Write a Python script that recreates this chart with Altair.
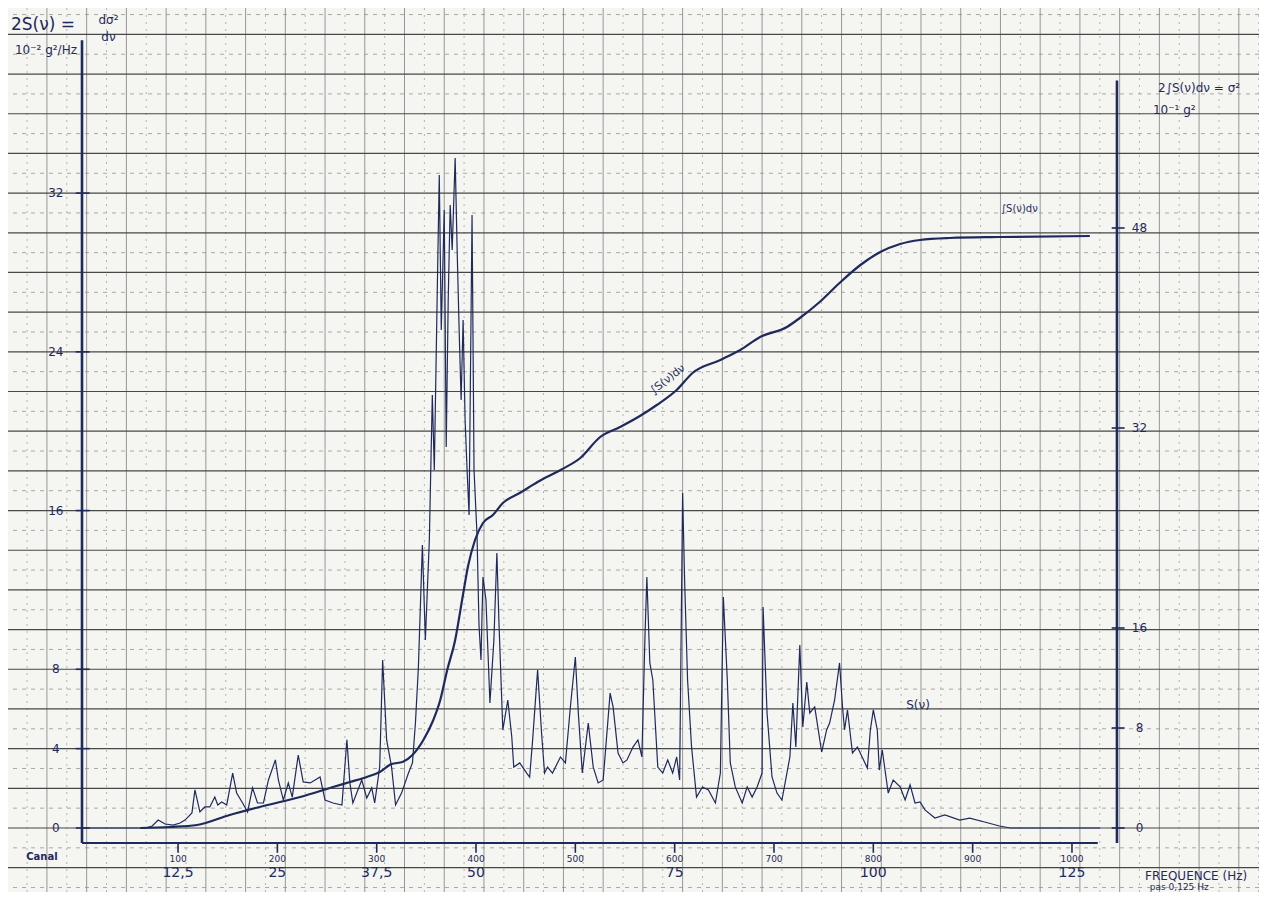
import altair as alt
import pandas as pd

# ---- data ----
# S(nu) trace: channel number (pas 0,125 Hz) and value in 10^-2 g^2/Hz
channel = [3, 67, 74, 80, 87, 95, 102, 107, 114, 117, 122, 127, 132, 137, 140, 144, 149, 155, 159, 165,
           170, 175, 180, 186, 191, 198, 201, 206, 211, 215, 221, 226, 233, 238, 243, 248, 256, 265, 270, 273,
           276, 285, 290, 295, 298, 303, 306, 310, 315, 319, 325, 332, 336, 339, 342, 346, 349, 353, 356, 358,
           361, 363, 365, 368, 370, 372, 374, 376, 379, 381, 383, 385, 387, 389, 391, 393, 396, 398, 401, 403,
           405, 407, 410, 414, 418, 421, 423, 427, 432, 436, 438, 444, 451, 454, 457, 462, 466, 469, 472, 477,
           485, 490, 495, 500, 503, 507, 513, 518, 523, 528, 535, 538, 543, 548, 552, 558, 563, 567, 570, 572,
           575, 578, 583, 588, 593, 598, 602, 605, 608, 610, 613, 617, 622, 628, 634, 641, 646, 649, 653, 656,
           661, 668, 673, 678, 683, 688, 689, 693, 698, 703, 708, 713, 716, 719, 722, 726, 729, 733, 736, 741,
           748, 753, 756, 761, 766, 769, 771, 774, 779, 784, 794, 797, 800, 804, 806, 809, 815, 820, 827, 832,
           837, 842, 847, 852, 862, 872, 887, 897, 912, 927, 938, 1028]
s_nu = [0, 0, 0.10, 0.40, 0.20, 0.15, 0.25, 0.40, 0.76, 1.92, 0.81, 1.06, 1.06, 1.56, 1.16, 1.31, 1.16, 2.77, 1.76, 1.26,
        0.81, 2.02, 1.26, 1.26, 2.42, 3.43, 2.42, 1.41, 2.27, 1.56, 3.68, 2.32, 2.27, 2.42, 2.57, 1.41, 1.26, 1.16, 4.44, 2.27,
        1.26, 2.42, 1.51, 2.02, 1.26, 3.07, 8.47, 4.44, 3.07, 1.16, 1.76, 2.77, 3.28, 5.29, 8.11, 14.26, 9.48, 14.52, 21.82, 18.04,
        27.12, 32.91, 25.10, 31.15, 19.20, 26.61, 31.40, 29.13, 33.77, 29.13, 25.10, 21.57, 25.60, 20.56, 18.04, 15.78, 30.90, 18.04, 14.77, 10.23,
        8.47, 12.65, 11.49, 6.30, 9.48, 13.86, 10.48, 4.94, 6.45, 4.59, 3.07, 3.28, 2.77, 2.57, 4.44, 7.96, 4.79, 2.77, 3.07, 2.77,
        3.58, 3.28, 6.10, 8.62, 5.80, 2.77, 5.29, 3.07, 2.27, 2.42, 6.80, 6.10, 3.78, 3.28, 3.43, 4.08, 4.44, 3.58, 9.48, 12.65,
        8.32, 7.46, 3.07, 2.77, 3.43, 2.77, 3.58, 2.42, 16.88, 12.50, 7.46, 4.08, 1.56, 2.07, 1.92, 1.26, 2.77, 11.64, 7.46, 3.28,
        2.07, 1.26, 2.07, 1.56, 2.07, 2.77, 11.14, 5.80, 2.57, 1.76, 1.41, 2.77, 3.58, 6.30, 4.08, 9.22, 5.09, 7.36, 5.80, 6.10,
        3.83, 4.94, 5.29, 6.45, 8.32, 6.10, 4.94, 5.95, 3.78, 4.08, 3.02, 4.94, 5.95, 4.94, 2.92, 3.93, 1.76, 2.42, 2.07, 1.41,
        2.17, 1.26, 1.31, 0.91, 0.50, 0.66, 0.40, 0.50, 0.30, 0.10, 0, 0]

# cumulative integral 2*int S(nu) dnu, in 10^-1 g^2 (right scale)
int_channel = [62, 92, 119, 152, 186, 223, 256, 273, 290, 303, 315, 326, 336, 347, 357, 364, 371, 379, 386, 392,
               399, 407, 417, 427, 444, 462, 485, 505, 525, 545, 565, 582, 602, 618, 646, 666, 686, 713, 726, 746,
               766, 787, 807, 827, 847, 877, 927, 1018]
int_value = [0, 0.08, 0.24, 1.04, 1.76, 2.48, 3.28, 3.68, 4.08, 4.48, 5.12, 5.28, 5.84, 7.04, 8.64, 10.24, 12.64, 15.04, 18.24, 20.96,
             23.04, 24.40, 25.04, 26.00, 26.80, 27.68, 28.64, 29.60, 31.28, 32.08, 32.96, 33.84, 35.04, 36.40, 37.44, 38.24, 39.28, 40.08, 40.80, 42.08,
             43.60, 45.04, 46.08, 46.72, 47.04, 47.20, 47.28, 47.36]

left_ticks = [0, 4, 8, 16, 24, 32]
right_ticks = [0, 8, 16, 32, 48]
canal_ticks = [100, 200, 300, 400, 500, 600, 700, 800, 900, 1000]
freq_ticks = [100, 200, 300, 400, 600, 800, 1000]
freq_labels = ["12,5", "25", "37,5", "50", "75", "100", "125"]

# ---- styling ----
INK = "#1f2a5c"
FONT = "DejaVu Sans"
PAPER = "#f5f5f1"
W, H = 1251, 884

XS = alt.Scale(domain=[-71.2, 1188.3], nice=False, zero=False)
YL = alt.Scale(domain=[-3.226, 41.33], nice=False, zero=False)
YR = alt.Scale(domain=[-5.12, 65.6], nice=False, zero=False)

ONE = pd.DataFrame({"k": [0]})


def xd(v):
    return alt.XDatum(v, type="quantitative", scale=XS, axis=None)


def yld(v):
    return alt.YDatum(v, type="quantitative", scale=YL, axis=None)


def yrd(v):
    return alt.YDatum(v, type="quantitative", scale=YR, axis=None)


def note(text, c, v, size=13, angle=0, align="center", right=False, weight="normal"):
    return alt.Chart(ONE).mark_text(
        text=text, fontSize=size, angle=angle, align=align, baseline="middle",
        font=FONT, color=INK, fontWeight=weight
    ).encode(x=xd(c), y=(yrd(v) if right else yld(v)))


# graph-paper grid, generated by Vega-Lite sequences (2 units / 40 channels per big square)
vmin_grid = alt.Chart(alt.sequence(-52, 1189, 40, as_="g")).mark_rule(
    color="#b4b4b4", strokeWidth=1, strokeDash=[2, 5]).encode(x=alt.X("g:Q", scale=XS, axis=None))
vmaj_grid = alt.Chart(alt.sequence(-32, 1189, 40, as_="g")).mark_rule(
    color="#8c8c8c", strokeWidth=0.9).encode(x=alt.X("g:Q", scale=XS, axis=None))
hmin_grid = alt.Chart(alt.sequence(-3, 42, 2, as_="g")).mark_rule(
    color="#a8a8a8", strokeWidth=1, strokeDash=[4, 5]).encode(y=alt.Y("g:Q", scale=YL, axis=None))
hmaj_grid = alt.Chart(alt.sequence(-2, 42, 2, as_="g")).mark_rule(
    color="#474747", strokeWidth=1.2).encode(y=alt.Y("g:Q", scale=YL, axis=None))

spec_df = pd.DataFrame({"channel": channel, "S": s_nu})
int_df = pd.DataFrame({"channel": int_channel, "I": int_value})
lt_df = pd.DataFrame({"v": left_ticks})
rt_df = pd.DataFrame({"r": right_ticks})
ct_df = pd.DataFrame({"c": canal_ticks})
ft_df = pd.DataFrame({"c": freq_ticks, "lab": freq_labels})

spectrum = alt.Chart(spec_df).mark_line(color=INK, strokeWidth=1.2).encode(
    x=alt.X("channel:Q", scale=XS, axis=None),
    y=alt.Y("S:Q", scale=YL, axis=None),
)

left_axis = alt.Chart(ONE).mark_rule(color=INK, strokeWidth=2.6).encode(
    x=xd(3.3), y=yld(-0.76), y2=alt.Y2Datum(39.7))
bottom_axis = alt.Chart(ONE).mark_rule(color=INK, strokeWidth=2.0).encode(
    x=xd(3.3), x2=alt.X2Datum(1026), y=yld(-0.76))
left_tick_marks = alt.Chart(lt_df).mark_rule(color=INK, strokeWidth=1.6).encode(
    x=xd(-3), x2=alt.X2Datum(11), y=alt.Y("v:Q", scale=YL, axis=None))
left_tick_labels = alt.Chart(lt_df).mark_text(color=INK, font=FONT, fontSize=12, align="center", baseline="middle").encode(
    x=xd(-23), y=alt.Y("v:Q", scale=YL, axis=None), text="v:Q")
bottom_tick_marks = alt.Chart(ct_df).mark_rule(color=INK, strokeWidth=1.6).encode(
    x=alt.X("c:Q", scale=XS, axis=None), y=yld(-0.76), y2=alt.Y2Datum(-1.25))
canal_labels = alt.Chart(ct_df).mark_text(color=INK, font=FONT, fontSize=9, baseline="middle").encode(
    x=alt.X("c:Q", scale=XS, axis=None), y=yld(-1.55), text="c:Q")
freq_text = alt.Chart(ft_df).mark_text(color=INK, font=FONT, fontSize=14, baseline="middle").encode(
    x=alt.X("c:Q", scale=XS, axis=None), y=yld(-2.25), text="lab:N")

left_layer = alt.layer(
    hmin_grid, vmin_grid, vmaj_grid, hmaj_grid,
    spectrum, left_axis, bottom_axis, left_tick_marks, left_tick_labels,
    bottom_tick_marks, canal_labels, freq_text,
    note("2S(ν) =", -36, 40.45, size=17),
    note("dσ²", 30, 40.75, size=12),
    note("dν", 30, 39.85, size=12),
    note("10⁻² g²/Hz", -33, 39.2, size=12),
    note("2∫S(ν)dν = σ²", 1128, 37.3, size=12),
    note("10⁻¹ g²", 1103, 36.2, size=12),
    note("∫S(ν)dν", 947, 31.2, size=10),
    note("∫S(ν)dν", 593, 22.6, size=11, angle=322),
    note("S(ν)", 845, 6.2, size=12),
    note("Canal", -37, -1.45, size=10, weight="bold"),
    note("FREQUENCE (Hz)", 1125, -2.4, size=12),
    note("pas   0,125 Hz", 1108, -2.98, size=9),
)

integral = alt.Chart(int_df).mark_line(color=INK, strokeWidth=2.2, interpolate="monotone").encode(
    x=alt.X("channel:Q", scale=XS, axis=None),
    y=alt.Y("I:Q", scale=YR, axis=None),
)
right_axis = alt.Chart(ONE).mark_rule(color=INK, strokeWidth=2.6).encode(
    x=xd(1045.3), y=yrd(-1.2), y2=alt.Y2Datum(59.8))
right_tick_marks = alt.Chart(rt_df).mark_rule(color=INK, strokeWidth=1.6).encode(
    x=xd(1040), x2=alt.X2Datum(1053), y=alt.Y("r:Q", scale=YR, axis=None))
right_tick_labels = alt.Chart(rt_df).mark_text(color=INK, font=FONT, fontSize=12, align="center", baseline="middle").encode(
    x=xd(1068), y=alt.Y("r:Q", scale=YR, axis=None), text="r:Q")

right_layer = alt.layer(integral, right_axis, right_tick_marks, right_tick_labels)

chart = alt.layer(left_layer, right_layer).resolve_scale(y="independent").properties(
    width=W, height=H, padding=0, background=PAPER,
    autosize=alt.AutoSizeParams(type="none"),
).configure_view(stroke=None)

chart.save("out.html", embed_options={"renderer": "svg", "actions": False})
